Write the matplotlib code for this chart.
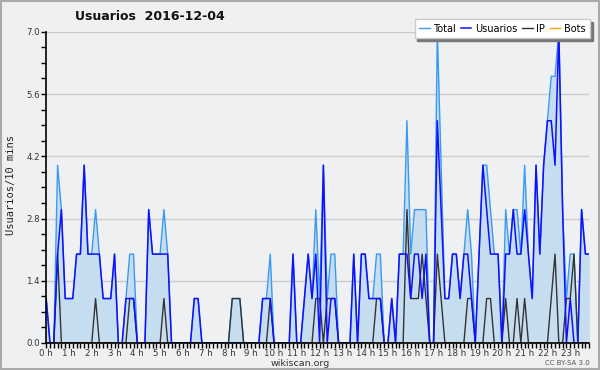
import numpy as np
import matplotlib
matplotlib.use('Agg')
import matplotlib.pyplot as plt
from matplotlib.ticker import MultipleLocator, FixedLocator

# 10 minute slots, 2016-12-04 (12 slots per row = 2 hours)
usuarios = [1,0,0,2,3,1,1,1,2,2,4,2,
            2,2,2,1,1,1,2,0,0,1,1,1,
            0,0,0,3,2,2,2,2,2,0,0,0,
            0,0,0,1,1,0,0,0,0,0,0,0,
            0,0,0,0,0,0,0,0,0,1,1,1,
            0,0,0,0,0,2,0,0,1,2,1,2,
            0,4,0,1,1,0,0,0,0,2,0,2,
            2,1,1,1,1,0,0,1,0,2,2,2,
            1,2,2,1,2,0,0,5,3,1,1,2,
            2,1,2,2,1,0,2,4,3,2,2,2,
            0,2,2,3,2,2,3,2,1,4,2,4,
            5,5,4,7,3,0,1,0,0,3,2,2]
ip = [0,0,0,2,0,0,0,0,0,0,0,0,
      0,1,0,0,0,0,0,0,0,0,1,1,
      0,0,0,0,0,0,0,1,0,0,0,0,
      0,0,0,0,0,0,0,0,0,0,0,0,
      0,1,1,1,0,0,0,0,0,0,0,1,
      0,0,0,0,0,0,0,0,0,0,0,1,
      1,0,1,1,1,0,0,0,0,0,0,0,
      0,0,0,1,1,0,0,0,0,0,0,3,
      1,1,1,2,1,0,0,2,1,0,0,0,
      0,0,0,1,1,0,0,0,1,1,0,0,
      0,1,0,0,1,0,1,0,0,0,0,0,
      0,1,2,0,0,1,1,2,0,0,0,0]
total = [1,0,0,4,3,1,1,1,2,2,4,2,
         2,3,2,1,1,1,2,0,0,1,2,2,
         0,0,0,3,2,2,2,3,2,0,0,0,
         0,0,0,1,1,0,0,0,0,0,0,0,
         0,1,1,1,0,0,0,0,0,1,1,2,
         0,0,0,0,0,2,0,0,1,2,1,3,
         1,4,1,2,2,0,0,0,0,2,0,2,
         2,1,1,2,2,0,0,1,0,2,2,5,
         2,3,3,3,3,0,0,7,4,1,1,2,
         2,1,2,3,2,0,2,4,4,3,2,2,
         0,3,2,3,3,2,4,2,1,4,2,4,
         5,6,6,7,3,1,2,2,0,3,2,2]
bots = [0]*144
hours = ['%d h' % h for h in range(24)]

BG  = '#eff0f2'
TOT = '#3a9af0'
FIL = '#c6ddf0'
USR = '#1010ff'
IPC = '#333333'
BOT = '#ffa500'

t = np.arange(len(total))

fig = plt.figure(figsize=(6, 3.7), dpi=100, facecolor=BG)
ax = fig.add_axes([0.077, 0.073, 0.905, 0.841], facecolor=BG)

ax.fill_between(t, total, color=FIL, lw=0, zorder=1)
ax.plot(t, bots, c=BOT, lw=1, zorder=1, label='Bots')
ax.plot(t, total, c=TOT, lw=1, zorder=3, label='Total')
ax.plot(t, ip, c=IPC, lw=1, zorder=4, label='IP')
ax.plot(t, usuarios, c=USR, lw=1.1, zorder=5, label='Usuarios')

ax.set_xlim(0, len(t) - 1)
ax.set_ylim(0, 7)
ax.xaxis.set_major_locator(FixedLocator(np.arange(0, 144, 6)))
ax.xaxis.set_minor_locator(MultipleLocator(1))
ax.set_xticklabels(hours)
ax.yaxis.set_major_locator(MultipleLocator(1.4))
ax.yaxis.set_minor_locator(MultipleLocator(0.35))
ax.yaxis.set_major_formatter(matplotlib.ticker.FormatStrFormatter('%.1f'))
ax.grid(axis='y', which='major', color='#cccccc', lw=1, zorder=0)
ax.set_axisbelow(True)

for s in ['top', 'right']:
    ax.spines[s].set_visible(False)
for s in ['bottom', 'left']:
    ax.spines[s].set_linewidth(1.2)
    ax.spines[s].set_zorder(6)
ax.tick_params(which='both', direction='out', width=1, colors='black', length=3.5, pad=0.5)
ax.tick_params(axis='x', labelsize=6.2)
ax.tick_params(axis='y', labelsize=6.2, pad=1)
for lab in ax.get_xticklabels() + ax.get_yticklabels():
    lab.set_color('#333333')

fig.text(0.125, 0.955, 'Usuarios  2016-12-04', fontsize=9, fontweight='bold',
         ha='left', va='center', color='#111111')
fig.text(0.018, 0.50, 'Usuarios/10 mins', rotation=90, fontsize=7.5,
         family='DejaVu Sans Mono', ha='center', va='center', color='#222222')
fig.text(0.5, 0.018, 'wikiscan.org', fontsize=6.8, ha='center', va='center', color='#333333')
fig.text(0.983, 0.020, 'CC BY-SA 3.0', fontsize=5, ha='right', va='center', color='#555555')

h, l = ax.get_legend_handles_labels()
order = [l.index(n) for n in ['Total', 'Usuarios', 'IP', 'Bots']]
leg = fig.legend([h[i] for i in order], [l[i] for i in order], ncol=4,
                 loc='upper right', bbox_to_anchor=(0.983, 0.948),
                 fontsize=7, handlelength=1.1, handletextpad=0.35, columnspacing=0.5,
                 borderpad=0.45, fancybox=False, shadow={'color': '#777777', 'alpha': 1},
                 framealpha=1, edgecolor='#cccccc', borderaxespad=0)
leg.set_zorder(10)

fig.patches.append(plt.Rectangle((0.001, 0.002), 0.997, 0.995, transform=fig.transFigure,
                                 fill=False, ec='#aaaaaa', lw=1.5))

plt.savefig('out.png', facecolor=BG)
